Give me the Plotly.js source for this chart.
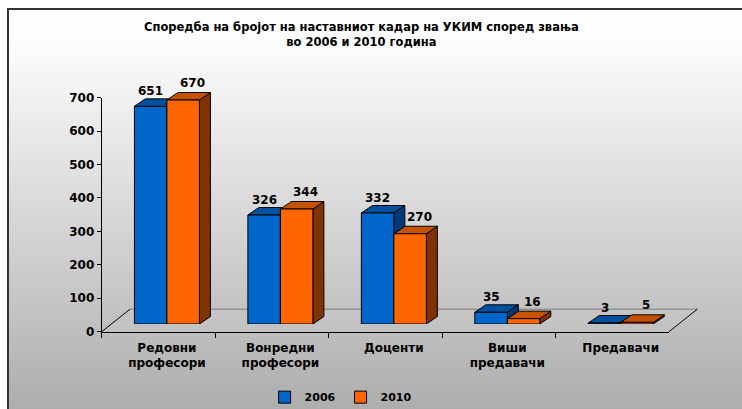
<!DOCTYPE html>
<html>
<head>
<meta charset="utf-8">
<script src="https://cdn.plot.ly/plotly-3.0.1.min.js"></script>
<style>
  html, body { margin: 0; padding: 0; background: #ffffff; }
  #wrap { position: relative; width: 742px; height: 409px; overflow: hidden; }
  #frame { position: absolute; left: 7px; top: 8px; width: 735px; height: 401px;
           border-top: 2px solid #333333; border-left: 2px solid #333333;
           background: linear-gradient(to bottom, #ffffff 0px, #fcfcfc 35px, #adadad 100%); }
  #chart { position: absolute; left: 0; top: 0; width: 742px; height: 409px; }
</style>
</head>
<body>
<div id="wrap"><div id="frame"></div><div id="chart"></div></div>
<script>
// ---- data ----
const categories = ['Редовни професори', 'Вонредни професори', 'Доценти', 'Виши предавачи', 'Предавачи'];
const tickLabels = ['Редовни<br>професори', 'Вонредни<br>професори', 'Доценти', 'Виши<br>предавачи', 'Предавачи'];
const seriesNames = ['2006', '2010'];
const values2006 = [651, 326, 332, 35, 3];
const values2010 = [670, 344, 270, 16, 5];
const yTicks = [0, 100, 200, 300, 400, 500, 600, 700];

// ---- styling ----
const FONT = 'DejaVu Sans, Verdana, sans-serif';
const blue = {front: '#0066CC', top: '#0050A0', side: '#003A78'};
const orange = {front: '#FF6600', top: '#C65200', side: '#7F3300'};
const W = 0.2864;          // bar width in category units
const DX = 0.097;          // 3D depth offset (category units)
const DY = 22.4;           // 3D depth offset (value units)

const traces = [
  // invisible carrier so the front (wall) axes get drawn
  {type: 'scatter', mode: 'markers', x: categories, y: values2006, xaxis: 'x', yaxis: 'y',
   marker: {opacity: 0}, showlegend: false, hoverinfo: 'skip'},
  {type: 'bar', name: seriesNames[0], x: categories, y: values2006, xaxis: 'x2', yaxis: 'y2',
   width: W, offset: -W, marker: {color: blue.front, line: {color: '#000', width: 1}},
   hoverinfo: 'y'},
  {type: 'bar', name: seriesNames[1], x: categories, y: values2010, xaxis: 'x2', yaxis: 'y2',
   width: W, offset: 0, marker: {color: orange.front, line: {color: '#000', width: 1}},
   hoverinfo: 'y'}
];

function poly(pts) {
  return 'M' + pts.map(p => p[0] + ',' + p[1]).join(' L') + ' Z';
}
const shapes = [];
// floor (relative to front axes' domains)
const floorDX = 0.0499, floorDY = 0.0962;
shapes.push({type: 'path', xref: 'x domain', yref: 'y domain', layer: 'below',
  path: poly([[0, 0], [floorDX, floorDY], [1 + floorDX, floorDY], [1, 0]]),
  fillcolor: 'rgba(255,255,255,0.06)', line: {width: 0}});
shapes.push({type: 'line', xref: 'x domain', yref: 'y domain', layer: 'below',
  x0: floorDX, y0: floorDY, x1: 1 + floorDX, y1: floorDY, line: {color: '#7a7a7a', width: 1}});
shapes.push({type: 'line', xref: 'x domain', yref: 'y domain', layer: 'below',
  x0: 0, y0: 0, x1: floorDX, y1: floorDY, line: {color: '#000', width: 1}});
shapes.push({type: 'line', xref: 'x domain', yref: 'y domain', layer: 'below',
  x0: 1, y0: 0, x1: 1 + floorDX, y1: floorDY, line: {color: '#000', width: 1}});

categories.forEach((c, i) => {
  const b = values2006[i], o = values2010[i];
  const common = {type: 'path', xref: 'x2', yref: 'y2', layer: 'below', line: {color: '#000', width: 1}};
  shapes.push(Object.assign({}, common, {fillcolor: blue.top,
    path: poly([[i - W, b], [i - W + DX, b + DY], [i + DX, b + DY], [i, b]])}));
  shapes.push(Object.assign({}, common, {fillcolor: orange.side,
    path: poly([[i + W, 0], [i + W + DX, DY], [i + W + DX, o + DY], [i + W, o]])}));
  shapes.push(Object.assign({}, common, {fillcolor: orange.top,
    path: poly([[i, o], [i + DX, o + DY], [i + W + DX, o + DY], [i + W, o]])}));
  if (b > o) {
    shapes.push(Object.assign({}, common, {fillcolor: blue.side,
      path: poly([[i, o], [i + DX, o + DY], [i + DX, b + DY], [i, b]])}));
  }
});

const annotations = [];
categories.forEach((c, i) => {
  annotations.push({xref: 'x2', yref: 'y2', x: i - W / 2, y: values2006[i], text: String(values2006[i]),
    showarrow: false, yanchor: 'bottom', yshift: 6, xshift: 0,
    font: {family: FONT, size: 12, color: '#000', weight: 'bold'}});
  annotations.push({xref: 'x2', yref: 'y2', x: i + W / 2, y: values2010[i], text: String(values2010[i]),
    showarrow: false, yanchor: 'bottom', yshift: 8, xshift: 9,
    font: {family: FONT, size: 12, color: '#000', weight: 'bold'}});
});

const layout = {
  width: 742, height: 409,
  margin: {l: 0, r: 0, t: 0, b: 0, autoexpand: false},
  paper_bgcolor: 'rgba(0,0,0,0)', plot_bgcolor: 'rgba(0,0,0,0)',
  font: {family: FONT, size: 12, color: '#000'},
  title: {text: 'Споредба на бројот на наставниот кадар на УКИМ според звања<br>во 2006 и 2010 година',
    x: 0.487, xanchor: 'center', y: 0.923, yanchor: 'top',
    font: {family: FONT, size: 11.5, color: '#000', weight: 'bold'}},
  showlegend: true,
  legend: {orientation: 'h', x: 0.459, xanchor: 'center', y: 0.029, yanchor: 'middle',
    bgcolor: 'rgba(0,0,0,0)', font: {family: FONT, size: 11, weight: 'bold'}},
  barmode: 'overlay',
  xaxis: {domain: [0.1371, 0.9016], anchor: 'y', type: 'category', categoryarray: categories,
    range: [-0.5, 4.5], showticklabels: false, ticks: 'outside', tickson: 'boundaries', ticklen: 5,
    tickcolor: '#000', showline: true, linecolor: '#000', linewidth: 1, showgrid: false,
    zeroline: false, fixedrange: true},
  yaxis: {domain: [0.189, 0.7611], anchor: 'x', range: [0, 700], tickvals: yTicks,
    ticks: 'outside', ticklen: 4, tickcolor: '#000', showline: true, linecolor: '#000',
    linewidth: 1, showgrid: false, zeroline: false,
    tickfont: {family: FONT, size: 12, weight: 'bold'}, fixedrange: true},
  xaxis2: {domain: [0.1485, 0.9131], anchor: 'free', position: 0.189, type: 'category',
    categoryarray: categories, range: [-0.5, 4.5], tickvals: categories, ticktext: tickLabels,
    ticks: '', showline: false, showgrid: false, zeroline: false, ticklabelstandoff: 7,
    tickfont: {family: FONT, size: 12, weight: 'bold'}, fixedrange: true},
  yaxis2: {domain: [0.2078, 0.78], anchor: 'x2', range: [0, 700], visible: false, fixedrange: true},
  shapes: shapes,
  annotations: annotations
};

Plotly.newPlot('chart', traces, layout, {displayModeBar: false, staticPlot: true});
</script>
</body>
</html>
